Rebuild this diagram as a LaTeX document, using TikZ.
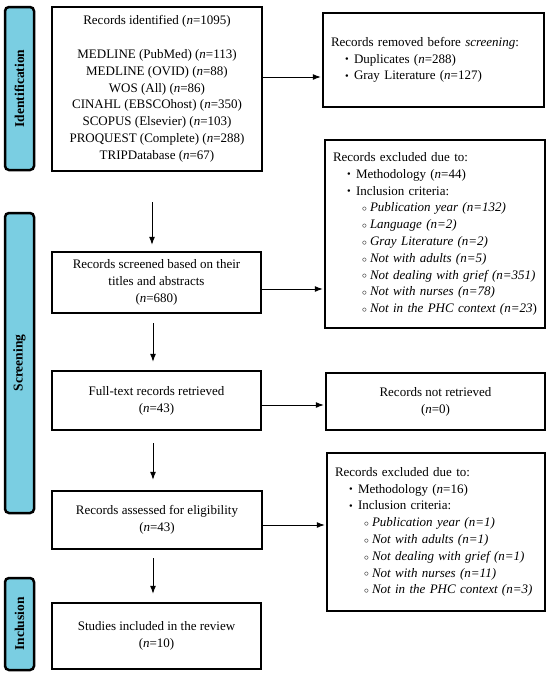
\documentclass[tikz,border=0pt]{standalone}
\usepackage{fontspec}
\setmainfont{Liberation Serif}
\usetikzlibrary{arrows.meta,calc}
\definecolor{sidefill}{RGB}{122,206,226}
\newcommand{\nn}{\textit{n}}
\newcommand{\bul}{\hspace*{14pt}\makebox[9pt][l]{\raisebox{0.5pt}{\scalebox{0.8}{•}}}}
\newcommand{\cir}{\hspace*{29pt}\makebox[8pt][l]{\raisebox{0.3pt}{\scalebox{0.8}{$\circ$}}}}
\tikzset{
  box/.style={draw=black, line width=2.5pt, fill=white, inner sep=0pt, align=center,
    font=\fontsize{13}{16.8}\selectfont},
  listbox/.style={box, align=left, inner xsep=8pt},
  sidebar/.style={draw=black, line width=2.5pt, fill=sidefill, rounded corners=4pt,
    rotate=90, inner sep=0pt, minimum height=29pt,
    font=\fontsize{13.5}{15}\selectfont\bfseries},
  arr/.style={draw=black, line width=0.9pt, -{Latex[length=8pt,width=6pt]}}
}
\begin{document}
\begin{tikzpicture}[x=1pt,y=-1pt]
\useasboundingbox (0,0) rectangle (550,675);
% side bars
\node[sidebar, minimum width=163pt] (sid) at (19.5,88.5) {Identification};
\node[sidebar, minimum width=300pt] (sscr) at (19.5,363) {Screening};
\node[sidebar, minimum width=92pt] (sinc) at (19.5,624) {Inclusion};
% left boxes
\node[box, minimum width=210pt, minimum height=164pt] (ident) at (157,89) {%
Records identified (\nn=1095)\\[16.8pt]
MEDLINE (PubMed) (\nn=113)\\
MEDLINE (OVID) (\nn=88)\\
WOS (All) (\nn=86)\\
CINAHL (EBSCOhost) (\nn=350)\\
SCOPUS (Elsevier) (\nn=103)\\
PROQUEST (Complete) (\nn=288)\\
TRIPDatabase (\nn=67)};
\node[box, minimum width=209pt, minimum height=61pt] (scr) at (156.5,282.5) {%
Records screened based on their\\ titles and abstracts\\ (\nn=680)};
\node[box, minimum width=209pt, minimum height=59pt] (full) at (156.5,400.5) {%
Full-text records retrieved\\ (\nn=43)};
\node[box, minimum width=210pt, minimum height=58pt] (assess) at (157,520) {%
Records assessed for eligibility\\ (\nn=43)};
\node[box, minimum width=209pt, minimum height=66pt] (incl) at (156.5,636) {%
Studies included in the review\\ (\nn=10)};
% right boxes
\node[listbox, text width=205pt, minimum height=94pt] (removed) at (433.5,60) {%
Records removed before \textit{screening}:\\
\bul Duplicates (\nn=288)\\
\bul Gray Literature (\nn=127)};
\node[listbox, text width=204pt, minimum height=188pt] (excl1) at (435,234) {%
Records excluded due to:\\
\bul Methodology (\nn=44)\\
\bul Inclusion criteria:\\
\cir\textit{Publication year (n=132)}\\
\cir\textit{Language (n=2)}\\
\cir\textit{Gray Literature (n=2)}\\
\cir\textit{Not with adults (n=5)}\\
\cir\textit{Not dealing with grief (n=351)}\\
\cir\textit{Not with nurses (n=78)}\\
\cir\textit{Not in the PHC context (n=23})};
\node[box, minimum width=219pt, minimum height=57pt] (notret) at (435.5,401.5) {%
Records not retrieved\\ (\nn=0)};
\node[listbox, text width=202pt, minimum height=158pt] (excl2) at (436,532) {%
Records excluded due to:\\
\bul Methodology (\nn=16)\\
\bul Inclusion criteria:\\
\cir\textit{Publication year (n=1)}\\
\cir\textit{Not with adults (n=1)}\\
\cir\textit{Not dealing with grief (n=1)}\\
\cir\textit{Not with nurses (n=11)}\\
\cir\textit{Not in the PHC context (n=3)}};
% vertical arrows
\coordinate (v1) at (152,202);
\coordinate (v2) at (153,323);
\coordinate (v3) at (153,443);
\coordinate (v4) at (153,558);
\draw[arr, shorten >=6pt] (v1) -- (v1 |- scr.north);
\draw[arr, shorten >=8pt] (v2) -- (v2 |- full.north);
\draw[arr, shorten >=10pt] (v3) -- (v3 |- assess.north);
\draw[arr, shorten >=8pt] (v4) -- (v4 |- incl.north);
% horizontal arrows
\coordinate (h1) at (0,77);
\coordinate (h2) at (0,289);
\coordinate (h3) at (0,405);
\coordinate (h4) at (0,525);
\draw[arr, shorten >=1pt] (ident.east |- h1) -- (removed.west |- h1);
\draw[arr, shorten >=1pt] (scr.east |- h2) -- (excl1.west |- h2);
\draw[arr, shorten >=1pt] (full.east |- h3) -- (notret.west |- h3);
\draw[arr, shorten >=1pt] (assess.east |- h4) -- (excl2.west |- h4);
\end{tikzpicture}
\end{document}
